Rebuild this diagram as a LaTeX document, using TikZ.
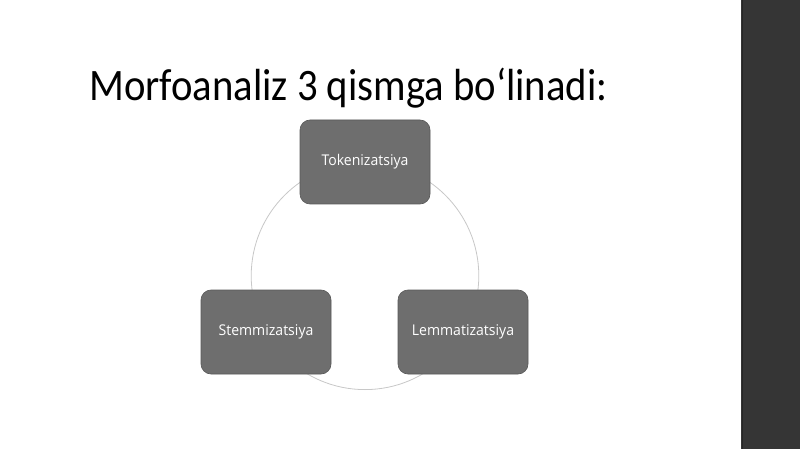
\documentclass[tikz,border=0pt]{standalone}
\usepackage{fontspec}
\setmainfont{Open Sans}
\newfontfamily\titlefont{Carlito}
\definecolor{boxgrey}{HTML}{6E6E6E}
\definecolor{bandgrey}{HTML}{353535}
\definecolor{ringgrey}{HTML}{C8C8C8}
\begin{document}
\begin{tikzpicture}[x=1pt,y=-1pt,
  stage/.style={draw=boxgrey!80!black, line width=0.6pt, fill=boxgrey, rounded corners=10pt,
    minimum width=130pt, minimum height=84pt, inner sep=0pt, text=white, font=\fontsize{14.8}{17}\selectfont}]
\useasboundingbox (0,0) rectangle (800,449);
\fill[white] (0,0) rectangle (800,449);
\fill[bandgrey] (741,0) rectangle (800,449);
\draw[black!85, line width=1pt] (742,0) -- (742,449);
\coordinate (c) at (365,275.8);
\draw[ringgrey, line width=0.8pt] (c) circle (113.8);
\node[anchor=base west, inner sep=0pt, font=\titlefont\fontsize{45}{50}\selectfont] (title) at (89,101) {\scalebox{0.905}[1]{Morfoanaliz 3 qismga bo‘linadi:}};
\node[stage] (tok) at (365,162) {\scalebox{0.95}[1]{Tokenizatsiya}};
\node[stage] (stem) at (266,332) {\scalebox{0.95}[1]{Stemmizatsiya}};
\node[stage] (lem) at (463,332) {\scalebox{0.95}[1]{Lemmatizatsiya}};
\end{tikzpicture}
\end{document}
